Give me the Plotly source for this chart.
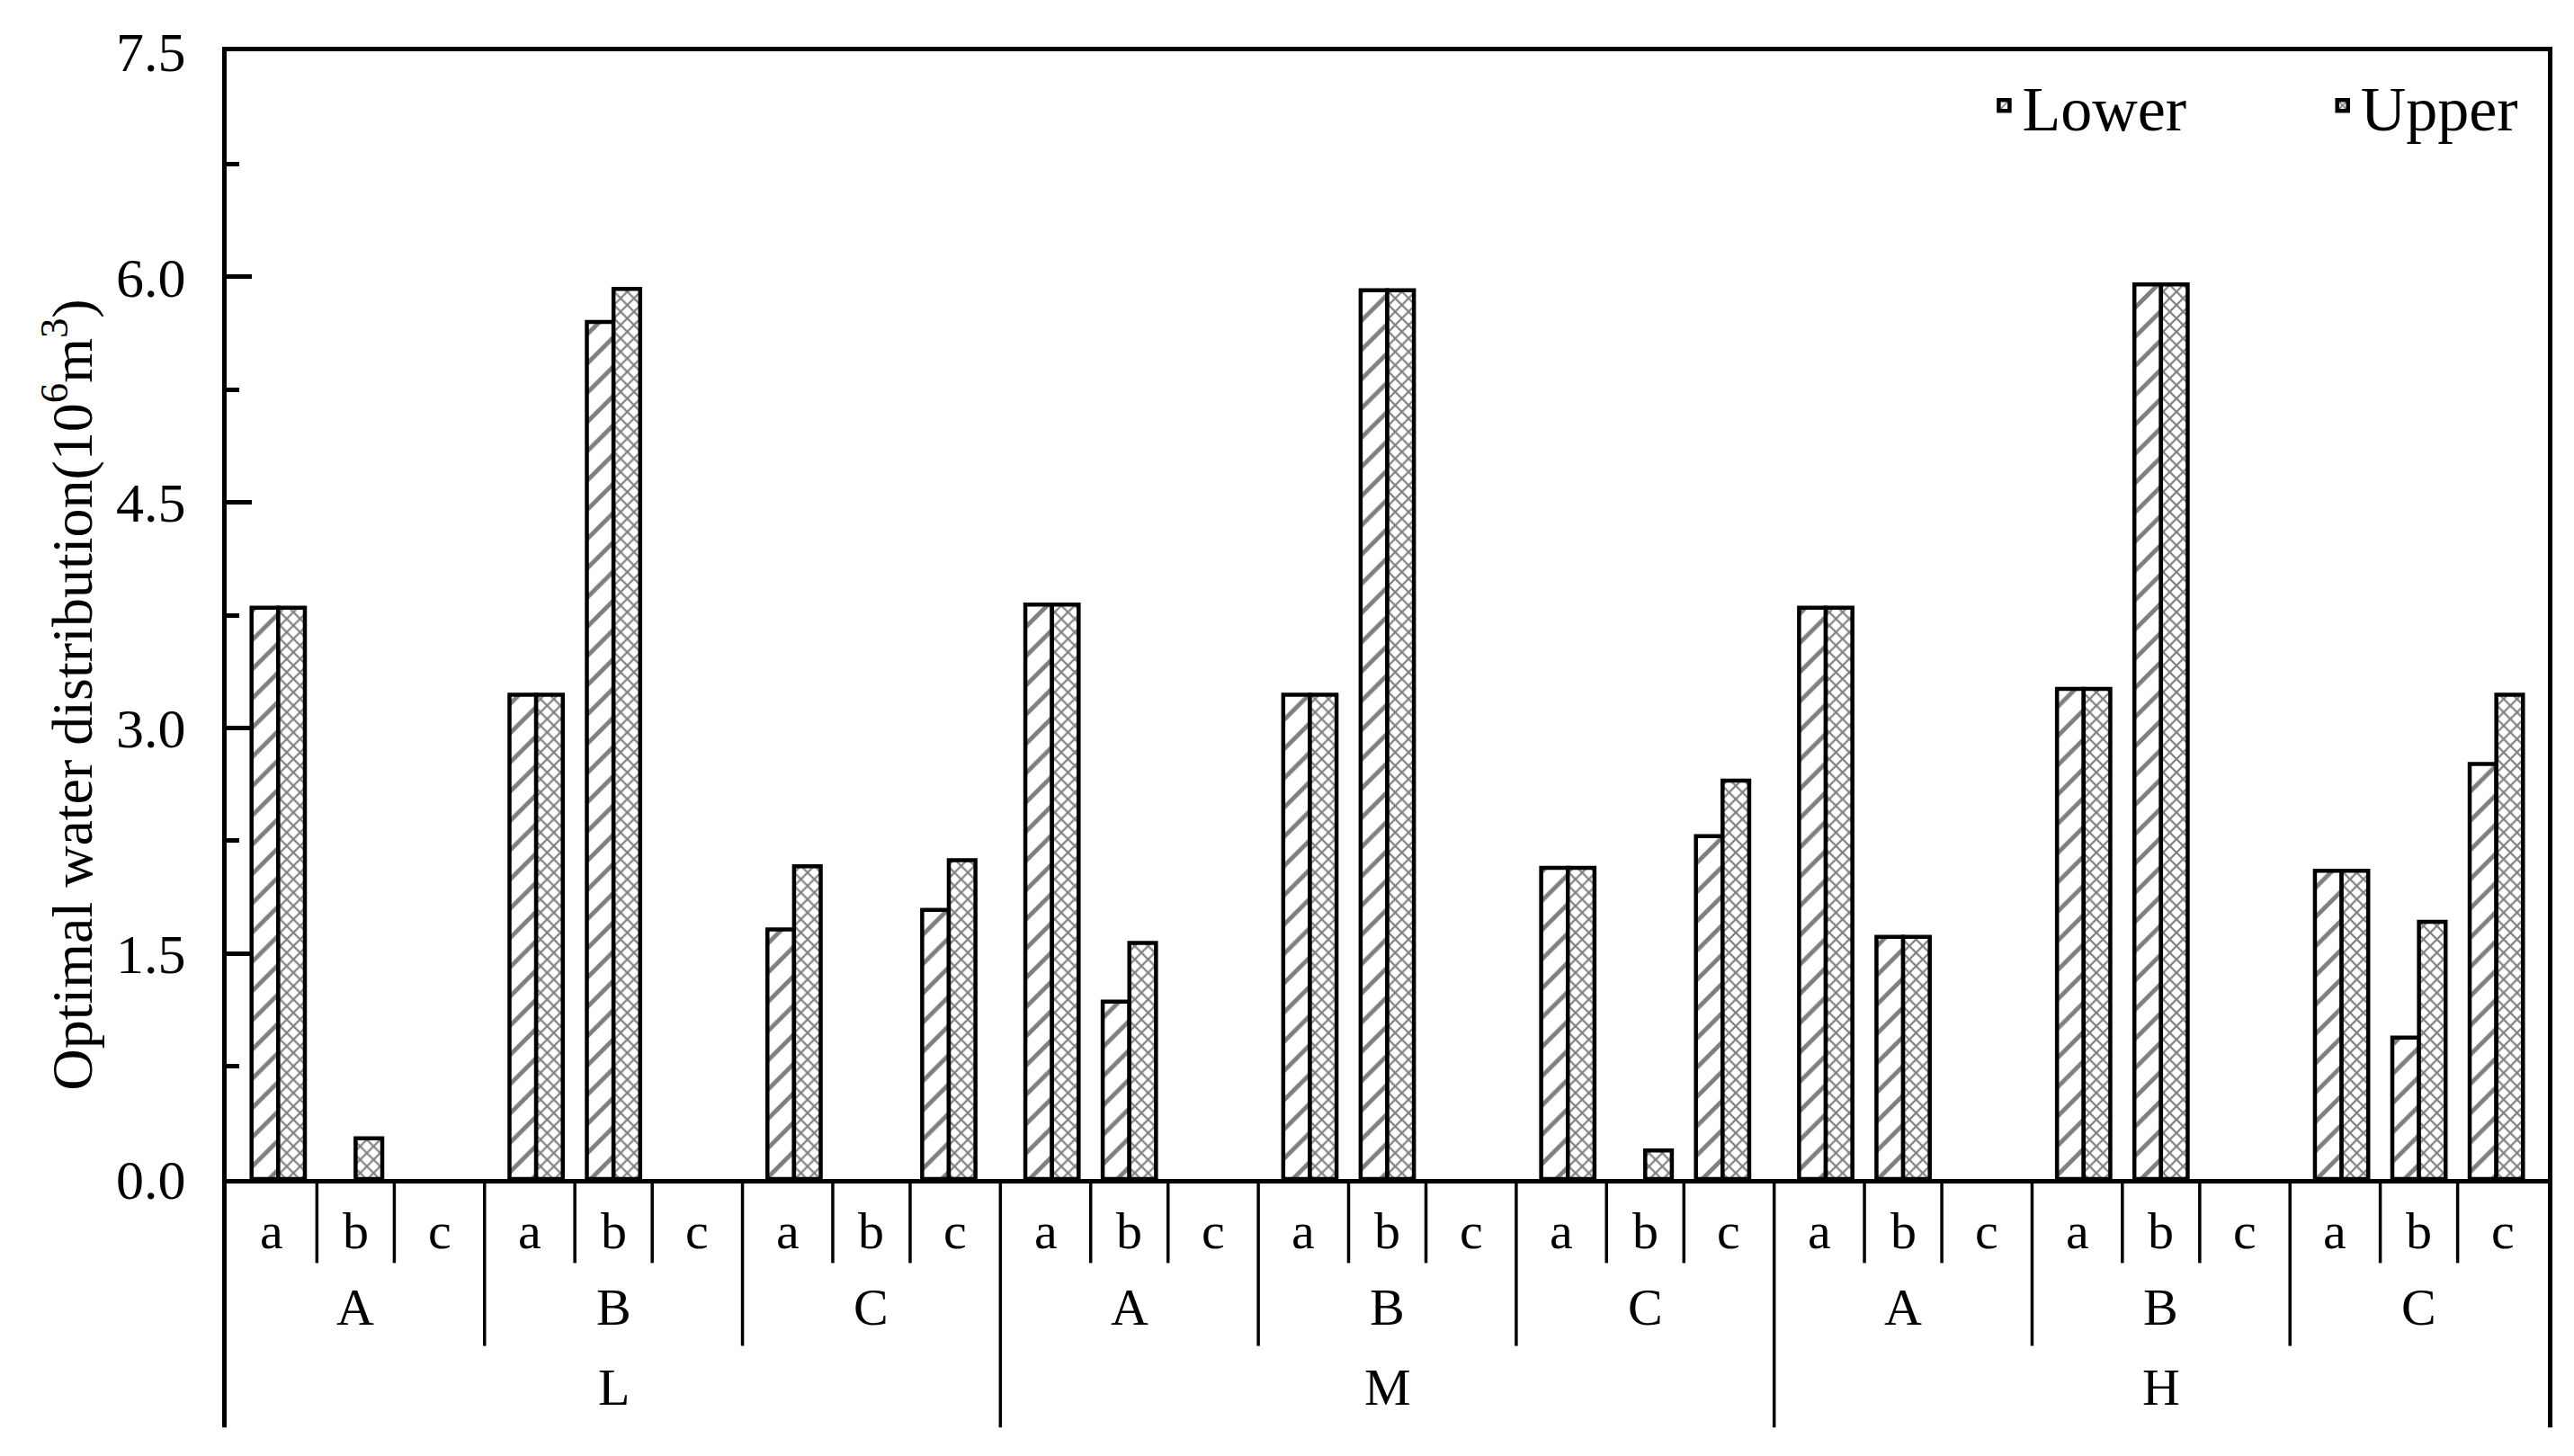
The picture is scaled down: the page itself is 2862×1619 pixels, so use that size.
import plotly.graph_objects as go

# ---------------- data ----------------
top_levels = ["L", "M", "H"]
mid_levels = ["A", "B", "C"]
sub_levels = ["a", "b", "c"]

lower = [3.80, 0.00, 0.00, 3.22, 5.70, 0.00, 1.66, 0.00, 1.79,
         3.82, 1.18, 0.00, 3.22, 5.91, 0.00, 2.07, 0.00, 2.28,
         3.80, 1.61, 0.00, 3.26, 5.95, 0.00, 2.05, 0.94, 2.76]
upper = [3.80, 0.27, 0.00, 3.22, 5.92, 0.00, 2.08, 0.00, 2.12,
         3.82, 1.57, 0.00, 3.22, 5.91, 0.00, 2.07, 0.19, 2.65,
         3.80, 1.61, 0.00, 3.26, 5.95, 0.00, 2.05, 1.71, 3.22]

y_ticks = [0.0, 1.5, 3.0, 4.5, 6.0, 7.5]
y_title = "Optimal water distribution(10<sup>6</sup>m<sup>3</sup>)"

# ---------------- layout helpers ----------------
FONT = "Liberation Serif"
D = 0.9        # spacing of sub-categories inside a group
W = 0.31       # width of one bar
n_sub, n_mid, n_top = len(sub_levels), len(mid_levels), len(top_levels)
n_groups = n_top * n_mid

xpos, sub_lab, sub_lab_x = [], [], []
for g in range(n_groups):
    c = n_sub * g + 1
    bounds = [c - 1.5, c - D / 2, c + D / 2, c + 1.5]
    for si in range(n_sub):
        xpos.append(c + (si - 1) * D)
        sub_lab.append(sub_levels[si])
        sub_lab_x.append((bounds[si] + bounds[si + 1]) / 2)

x_min, x_max = -0.5, n_sub * n_groups - 0.5


def nz(vals):
    # zero-valued bars are not drawn
    return [v if v > 0 else None for v in vals]


fig = go.Figure()
fig.add_trace(go.Bar(
    x=xpos, y=nz(lower), name="Lower", offset=-W, width=W, legend="legend",
    marker=dict(color="white", line=dict(color="black", width=4.5),
                pattern=dict(shape="/", size=23, solidity=0.21,
                             fgcolor="black", bgcolor="white")),
))
fig.add_trace(go.Bar(
    x=xpos, y=nz(upper), name="Upper", offset=0, width=W, legend="legend2",
    marker=dict(color="white", line=dict(color="black", width=4.5),
                pattern=dict(shape="x", size=10.5, solidity=0.38,
                             fgcolor="black", bgcolor="white")),
))

# y positions (paper) of the hierarchical labels below the axis
Y_SUB_LAB, Y_SUB_END = -0.0458, -0.0745
Y_MID_LAB, Y_MID_END = -0.114, -0.148
Y_TOP_LAB, Y_TOP_END = -0.185, -0.2203
LAB_FONT = dict(family=FONT, size=58, color="black")

ann = []
for x, t in zip(sub_lab_x, sub_lab):
    ann.append(dict(x=x, y=Y_SUB_LAB, xref="x", yref="paper", text=t,
                    showarrow=False, yanchor="middle", font=LAB_FONT))
for g in range(n_groups):
    ann.append(dict(x=n_sub * g + 1, y=Y_MID_LAB, xref="x", yref="paper",
                    text=mid_levels[g % n_mid], showarrow=False, yanchor="middle",
                    font=LAB_FONT))
for t in range(n_top):
    ann.append(dict(x=n_sub * n_mid * t + (n_sub * n_mid - 1) / 2, y=Y_TOP_LAB,
                    xref="x", yref="paper", text=top_levels[t], showarrow=False,
                    yanchor="middle", font=LAB_FONT))

ann.append(dict(x=0, xref="paper", xshift=-176.5, y=0.429, yref="paper",
                text=y_title, textangle=-90, showarrow=False,
                xanchor="center", yanchor="middle",
                font=dict(family=FONT, size=64, color="black")))

shapes = []
LW = 3.5
for g in range(n_groups):
    c = n_sub * g + 1
    for xs in (c - D / 2, c + D / 2):
        shapes.append(dict(type="line", xref="x", yref="paper", x0=xs, x1=xs,
                           y0=0, y1=Y_SUB_END, line=dict(color="black", width=LW)))
    if g > 0:
        end = Y_TOP_END if g % n_mid == 0 else Y_MID_END
        xs = n_sub * g - 0.5
        shapes.append(dict(type="line", xref="x", yref="paper", x0=xs, x1=xs,
                           y0=0, y1=end, line=dict(color="black", width=LW)))
# outer edges (aligned with the frame lines)
for anchor, shift in ((0, -2.5), (1, 2.5)):
    shapes.append(dict(type="line", xref="paper", xsizemode="pixel", xanchor=anchor,
                       x0=shift, x1=shift, yref="paper", y0=0, y1=Y_TOP_END,
                       line=dict(color="black", width=5)))

LEG = dict(orientation="h", xanchor="left", y=0.952, yanchor="middle",
           font=dict(family=FONT, size=70, color="black"),
           bgcolor="rgba(0,0,0,0)")

fig.update_layout(
    width=2846, height=1603,
    margin=dict(l=243.5, r=20.5, t=48.5, b=299.5, autoexpand=False),
    plot_bgcolor="white", paper_bgcolor="white",
    barmode="overlay",
    font=dict(family=FONT, color="black"),
    showlegend=True,
    legend=dict(LEG, x=0.758),
    legend2=dict(LEG, x=0.9038),
    annotations=ann,
    shapes=shapes,
    xaxis=dict(range=[x_min, x_max], showticklabels=False, ticks="",
               showline=True, linewidth=5, linecolor="black", mirror=True,
               showgrid=False, zeroline=False),
    yaxis=dict(range=[0, 7.5], tickvals=y_ticks,
               ticktext=[f"{v:.1f}" for v in y_ticks],
               ticks="inside", ticklen=28, tickwidth=5, tickcolor="black",
               minor=dict(ticks="inside", ticklen=14, tickwidth=5, dtick=0.75,
                          tick0=0, tickcolor="black"),
               showline=True, linewidth=5, linecolor="black", mirror=True,
               showgrid=False, zeroline=False, ticklabelstandoff=28,
               tickfont=dict(family=FONT, size=62, color="black")),
)

fig.write_html("out.html")
